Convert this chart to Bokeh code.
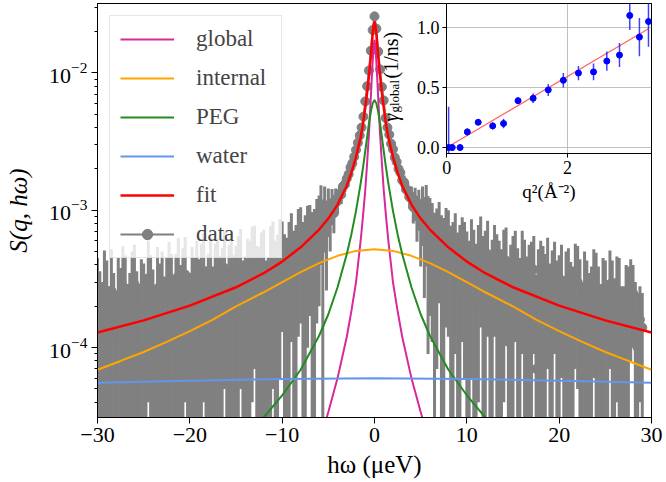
import numpy as np
from bokeh.plotting import figure
from bokeh.models import (Range1d, FixedTicker, LogTickFormatter, Legend, LegendItem,
                          ColumnDataSource, CustomJSTickFormatter, Label, NumeralTickFormatter)
from bokeh.embed import file_html
from bokeh.resources import INLINE

FONT = "Liberation Serif"

# ---------------- model curves (units of 1e-4) ----------------
global_x = [-7, -6, -5, -4, -3, -2.5, -2, -1.5, -1.25, -1.0, -0.8, -0.6, -0.4, -0.3, -0.2, -0.1, 0,
            0.1, 0.2, 0.3, 0.4, 0.6, 0.8, 1.0, 1.25, 1.5, 2, 2.5, 3, 4, 5, 6, 7]
global_y = [0.12, 0.2, 0.34, 0.6, 1.2, 1.85, 3.0, 6.0, 9.0, 14.0, 22.0, 36.0, 66.0, 90.0, 120.0, 155.0, 174.0,
            155.0, 120.0, 90.0, 66.0, 36.0, 22.0, 14.0, 9.0, 6.0, 3.0, 1.85, 1.2, 0.6, 0.34, 0.2, 0.12]

peg_x = [-15, -12, -10, -8, -6, -5, -4, -3, -2.5, -2, -1.5, -1.25, -1.0, -0.8, -0.6, -0.4, -0.2, 0,
         0.2, 0.4, 0.6, 0.8, 1.0, 1.25, 1.5, 2, 2.5, 3, 4, 5, 6, 8, 10, 12, 15]
peg_y = [0.20, 0.31, 0.45, 0.69, 1.22, 1.75, 2.75, 4.8, 6.7, 9.9, 15.7, 20.3, 27.0, 34.0, 43.0, 52.0, 60.0, 63.5,
         60.0, 52.0, 43.0, 34.0, 27.0, 20.3, 15.7, 9.9, 6.7, 4.8, 2.75, 1.75, 1.22, 0.69, 0.45, 0.31, 0.20]

internal_x = [-30, -27.5, -25, -22.5, -20, -17.5, -15, -12, -10, -8, -6, -4, -2, 0,
              2, 4, 6, 8, 10, 12, 15, 17.5, 20, 22.5, 25, 27.5, 30]
internal_y = [0.69, 0.80, 0.93, 1.10, 1.32, 1.60, 2.00, 2.53, 3.00, 3.54, 4.12, 4.66, 5.06, 5.20,
              5.06, 4.66, 4.12, 3.54, 3.00, 2.53, 2.00, 1.60, 1.32, 1.10, 0.93, 0.80, 0.69]

water_x = [-30, -20, -10, 0, 10, 20, 30]
water_y = [0.555, 0.575, 0.592, 0.598, 0.592, 0.575, 0.555]

fit_x = [-30, -25, -20, -15, -12, -10, -8, -6, -5, -4, -3, -2.5, -2, -1.75, -1.5, -1.25, -1.0, -0.8, -0.6,
         -0.4, -0.3, -0.2, -0.1, 0, 0.1, 0.2, 0.3, 0.4, 0.6, 0.8, 1.0, 1.25, 1.5, 1.75, 2, 2.5, 3, 4, 5, 6,
         8, 10, 12, 15, 20, 25, 30]
fit_y = [1.29, 1.58, 2.02, 2.75, 3.48, 4.23, 5.37, 7.24, 8.7, 11.0, 15.1, 18.8, 24.5, 28.8, 34.0, 42.0, 56.0,
         72.0, 95.0, 132.0, 160.0, 192.0, 222.0, 236.0, 222.0, 192.0, 160.0, 132.0, 95.0, 72.0, 56.0, 42.0,
         34.0, 28.8, 24.5, 18.8, 15.1, 11.0, 8.7, 7.24, 5.37, 4.23, 3.48, 2.75, 2.02, 1.58, 1.29]

# ---------------- measured data (units of 1e-4), energy grid in ueV ----------------
data_x_left = np.round(np.arange(-30.0, -5.99, 0.25), 2)
data_x_center = np.round(np.arange(-5.8, 5.81, 0.2), 2)
data_x_right = np.round(np.arange(6.0, 29.01, 0.25), 2)

data_y_left = [2.1, 1.4, 0.9, 2.5, 1.8, 0.6, 2.6, 1.2, 0.6, 2.0,
               1.5, 2.8, 2.2, 0.8, 1.1, 2.4, 2.9, 1.3, 0.7, 1.9,
               1.9, 1.0, 3.2, 2.1, 1.3, 0.5, 2.7, 1.6, 2.4, 0.9,
               1.7, 3.0, 2.3, 1.0, 2.2, 3.3, 1.4, 2.6, 3.4, 1.1,
               0.8, 2.5, 1.9, 3.0, 1.6, 2.8, 3.6, 1.3, 2.0, 3.2,
               1.2, 2.7, 3.1, 1.8, 2.4, 3.8, 0.9, 2.6, 3.5, 1.7,
               2.2, 3.3, 3.9, 1.4, 1.5, 2.9, 2.8, 4.0, 4.2, 2.3,
               2.0, 3.4, 3.6, 1.1, 1.2, 3.9, 4.4, 2.5, 3.0, 4.6,
               4.8, 2.9, 2.4, 4.1, 5.3, 3.2, 3.8, 5.7, 6.0, 4.0,
               4.4, 5.9, 6.3, 4.7, 5.0, 6.8, 7.4]
data_err_left = [2.4, 2.2, 2.1, 2.6, 2.5, 2.2, 2.6, 2.3, 2.0, 2.5,
                 2.3, 2.7, 2.5, 2.1, 2.4, 2.6, 2.7, 2.3, 2.2, 2.5,
                 2.2, 2.4, 2.8, 2.6, 2.4, 2.3, 2.7, 2.5, 2.6, 2.4,
                 2.8, 2.9, 2.5, 2.4, 2.6, 3.0, 2.6, 2.7, 3.0, 2.5,
                 2.7, 2.9, 2.6, 3.0, 2.8, 2.9, 3.2, 2.6, 2.8, 3.1,
                 2.7, 3.0, 3.1, 2.8, 2.9, 3.3, 2.8, 3.0, 3.3, 3.0,
                 3.3, 3.2, 3.4, 2.9, 3.1, 3.3, 3.2, 3.6, 3.5, 3.2,
                 3.4, 3.5, 3.6, 3.2, 3.3, 3.8, 3.9, 3.5, 3.6, 4.0,
                 3.5, 3.8, 3.9, 4.1, 4.2, 3.9, 4.0, 4.5, 4.5, 4.2,
                 4.8, 4.9, 4.6, 5.0, 5.2, 5.3, 5.4]

data_y_center = [9.6, 6.1, 9.9, 7.2, 10.4, 8.4, 11.3, 9.5, 12.0, 11.6,
                 13.2, 13.0, 15.0, 15.4, 17.0, 18.3, 20.5, 22.0, 24.5, 27.5,
                 31.0, 35.0, 40.0, 48.0, 62.0, 80.0, 104.0, 145.0, 205.0, 258.0,
                 210.0, 143.0, 106.0, 79.0, 63.0, 47.0, 40.0, 35.5, 30.5, 27.8,
                 24.2, 22.5, 20.0, 18.8, 16.5, 16.0, 14.2, 14.0, 12.4, 12.6,
                 10.5, 11.8, 9.0, 10.6, 8.0, 10.2, 7.4, 9.6, 6.8]
data_err_center = [5.6, 5.9, 5.0, 4.6, 4.0, 3.4, 3.0, 2.7, 2.4, 2.2,
                   2.0, 1.9, 1.8, 1.8, 1.8, 1.8, 1.9, 2.0, 2.1, 2.2,
                   2.4, 2.6, 3.0, 3.5, 4.5, 5.0, 6.0, 8.0, 10.0, 12.0,
                   10.5, 8.2, 6.2, 5.2, 4.4, 3.6, 3.1, 2.7, 2.4, 2.3,
                   2.1, 2.0, 1.9, 1.9, 1.8, 1.9, 2.0, 2.0, 2.1, 2.3,
                   2.5, 2.8, 3.1, 3.5, 4.1, 4.7, 5.1, 5.7, 5.9]

data_y_right = [7.0, 6.2, 4.6, 5.5, 6.8, 4.3, 3.9, 5.9, 5.6, 3.5,
                4.1, 5.2, 2.6, 3.8, 5.0, 4.4, 3.3, 2.1, 4.6, 3.6,
                2.2, 4.1, 5.2, 3.0, 3.7, 4.8, 1.4, 2.7, 4.5, 3.5,
                2.9, 1.9, 3.8, 4.3, 1.1, 2.5, 3.3, 4.1, 2.4, 1.5,
                4.0, 3.2, 1.8, 2.6, 2.9, 3.7, 0.7, 2.3, 3.1, 2.8,
                2.2, 3.5, 1.3, 2.5, 3.4, 1.6, 2.0, 3.1, 0.9, 2.4,
                2.7, 1.8, 1.6, 3.2, 3.0, 2.1, 0.6, 2.6, 2.1, 1.2,
                1.4, 2.9, 2.6, 1.7, 0.8, 2.3, 1.9, 1.1, 2.9, 2.0,
                1.2, 2.5, 2.2, 0.9, 0.7, 1.8, 1.7, 2.6, 2.5, 1.3,
                1.0, 1.6, 1.4]
data_err_right = [5.3, 5.1, 5.0, 4.8, 4.7, 4.9, 4.9, 4.5, 4.4, 4.2,
                  4.1, 4.3, 4.3, 4.0, 3.9, 3.8, 3.7, 3.9, 4.0, 3.6,
                  3.5, 3.7, 3.8, 3.5, 3.4, 3.6, 3.6, 3.4, 3.3, 3.2,
                  3.1, 3.3, 3.4, 3.2, 3.0, 3.1, 3.2, 3.0, 2.9, 3.0,
                  3.1, 2.9, 2.8, 3.0, 3.0, 2.8, 2.7, 2.9, 2.9, 2.7,
                  2.6, 2.8, 2.8, 2.6, 2.5, 2.7, 2.7, 2.5, 2.4, 2.6,
                  2.6, 2.4, 2.3, 2.5, 2.5, 2.3, 2.4, 2.4, 2.2, 2.3,
                  2.5, 2.3, 2.3, 2.2, 2.1, 2.2, 2.4, 2.0, 2.2, 2.3,
                  2.0, 2.1, 2.3, 1.9, 2.1, 2.2, 2.2, 1.8, 1.5, 1.7,
                  1.5, 1.2, 1.1]

# ---------------- inset data ----------------
q2 = [0.03, 0.09, 0.22, 0.34, 0.52, 0.76, 0.94, 1.18, 1.43, 1.68, 1.93, 2.18, 2.43, 2.65, 2.86, 3.03, 3.19, 3.34]
gamma = [0.0, 0.0, 0.0, 0.13, 0.21, 0.18, 0.20, 0.39, 0.41, 0.48, 0.56, 0.62, 0.63, 0.72, 0.77, 1.10, 0.92, 1.05]
gamma_err = [0.34, 0.03, 0.02, 0.03, 0.02, 0.03, 0.04, 0.03, 0.04, 0.05, 0.06, 0.06, 0.07, 0.08, 0.10, 0.12, 0.16, 0.21]
fit_q2 = [0.0, 3.34]
fit_gamma = [0.0, 0.99]

x_ticks = [-30, -20, -10, 0, 10, 20, 30]
y_ticks = [1e-4, 1e-3, 1e-2]
inset_x_ticks = [0, 2]
inset_y_ticks = [0.0, 0.5, 1.0]

colors = {"global": "#d8289a", "internal": "#ffa500", "PEG": "#228b22",
          "water": "#6495ed", "fit": "#ff0000", "data": "#808080"}
UNIT = 1e-4

# ---------------- main figure ----------------
p = figure(width=666, height=482, x_range=Range1d(-30, 30), y_range=Range1d(3.1e-5, 3.2e-2),
           y_axis_type="log", output_backend="svg", toolbar_location=None,
           min_border_left=97, min_border_right=15, min_border_top=3, min_border_bottom=65)
p.name = "main"
p.grid.visible = False
p.outline_line_color = "black"
p.background_fill_color = "white"
p.border_fill_color = "white"

dx = np.concatenate([data_x_left, data_x_center, data_x_right])
dy = np.concatenate([data_y_left, data_y_center, data_y_right]) * UNIT
de = np.concatenate([data_err_left, data_err_center, data_err_right]) * UNIT
lo = np.where(dy - de > 0, dy - de, 1e-8)
hi = dy + de
dsrc = ColumnDataSource(dict(x=dx, y=dy, lo=lo, hi=hi))

gray = colors["data"]
p.segment("x", "lo", "x", "hi", source=dsrc, line_color=gray, line_width=3)
r_dline = p.line("x", "y", source=dsrc, line_color=gray, line_width=2)
r_dpts = p.scatter("x", "y", source=dsrc, size=9, fill_color=gray, line_color=gray)
r_dvbar = p.scatter(x=[], y=[], marker="dash", size=26, angle=np.pi / 2,
                    line_color=gray, line_width=2.5)

def curve(xs, ys, color, width=2):
    return p.line(xs, [v * UNIT for v in ys], line_color=color, line_width=width)

r_g = curve(global_x, global_y, colors["global"])
r_i = curve(internal_x, internal_y, colors["internal"])
r_p = curve(peg_x, peg_y, colors["PEG"])
r_w = curve(water_x, water_y, colors["water"])
r_f = curve(fit_x, fit_y, colors["fit"], 2.5)

p.xaxis.ticker = FixedTicker(ticks=x_ticks)
p.xaxis.formatter = CustomJSTickFormatter(code="return (tick < 0 ? '\u2212' : '') + Math.abs(tick).toFixed(0);")
minor = [k * 10.0 ** e for e in (-5, -4, -3, -2) for k in range(2, 10)]
p.yaxis.ticker = FixedTicker(ticks=y_ticks, minor_ticks=minor)
p.yaxis.formatter = LogTickFormatter()
p.xaxis.axis_label = "hω (μeV)"
p.yaxis.axis_label = "S(q, hω)"
p.yaxis.axis_label_text_font_style = "italic"
p.xaxis.axis_label_text_font_style = "normal"
for ax in (p.xaxis[0], p.yaxis[0]):
    ax.major_tick_in = 0
    ax.major_tick_out = 6
    ax.minor_tick_in = 0
    ax.minor_tick_out = 3
    ax.major_label_standoff = 4
    ax.axis_label_standoff = 6
    ax.major_label_text_font = FONT
    ax.major_label_text_font_size = "22px"
    ax.major_label_text_color = "black"
    ax.axis_label_text_font = FONT
    ax.axis_label_text_font_size = "25px"
    ax.axis_label_text_color = "black"
    ax.axis_line_color = "black"
    ax.major_tick_line_color = "black"
    ax.minor_tick_line_color = "black"
p.xaxis.minor_tick_line_color = None
p.yaxis.axis_label_standoff = 14

legend = Legend(items=[
    LegendItem(label="global", renderers=[r_g]),
    LegendItem(label="internal", renderers=[r_i]),
    LegendItem(label="PEG", renderers=[r_p]),
    LegendItem(label="water", renderers=[r_w]),
    LegendItem(label="fit", renderers=[r_f]),
    LegendItem(label="data", renderers=[r_dline, r_dpts, r_dvbar]),
], location="top_left")
legend.label_text_font = FONT
legend.label_text_font_size = "23px"
legend.glyph_width = 54
legend.glyph_height = 26
legend.label_height = 20
legend.spacing = 13
legend.padding = 10
legend.margin = 12
legend.label_standoff = 22
legend.label_width = 75
legend.border_line_color = "#d0d0d0"
legend.background_fill_alpha = 0.8
p.add_layout(legend)

# composed y label of the inset (gamma with subscript "global"), placed in screen units
lab_kw = dict(x_units="screen", y_units="screen", angle=np.pi / 2, text_font=FONT,
              text_color="black", text_align="left", text_baseline="alphabetic")
p.add_layout(Label(x=293, y=296, text="γ", text_font_size="20px", text_font_style="italic", **lab_kw))
p.add_layout(Label(x=297, y=305, text="global", text_font_size="13px", **lab_kw))
p.add_layout(Label(x=293, y=339, text="(1/ns)", text_font_size="20px", **lab_kw))

# ---------------- inset ----------------
inset = figure(width=263, height=204, x_range=Range1d(-0.005, 3.39), y_range=Range1d(-0.05, 1.2),
               output_backend="svg", toolbar_location=None,
               min_border_left=56, min_border_right=2, min_border_top=3, min_border_bottom=50)
inset.name = "inset"
inset.border_fill_alpha = 0
inset.background_fill_color = "white"
inset.outline_line_color = "black"
inset.xgrid.ticker = FixedTicker(ticks=inset_x_ticks)
inset.ygrid.ticker = FixedTicker(ticks=inset_y_ticks)
inset.grid.grid_line_color = "#b0b0b0"
inset.grid.grid_line_alpha = 0.8

glo = [g - e for g, e in zip(gamma, gamma_err)]
ghi = [g + e for g, e in zip(gamma, gamma_err)]
isrc = ColumnDataSource(dict(q=q2, g=gamma, lo=glo, hi=ghi))
inset.line(fit_q2, fit_gamma, line_color="#ff3030", line_alpha=0.75, line_width=1.2)
inset.segment("q", "lo", "q", "hi", source=isrc, line_color="#0000ff", line_width=1.5, line_alpha=0.75)
inset.scatter("q", "g", source=isrc, size=6, fill_color="#0000ff", line_color="#0000ff")

inset.xaxis.ticker = FixedTicker(ticks=inset_x_ticks)
inset.yaxis.ticker = FixedTicker(ticks=inset_y_ticks)
inset.xaxis.formatter = NumeralTickFormatter(format="0")
inset.yaxis.formatter = NumeralTickFormatter(format="0.0")
inset.xaxis.axis_label = "q²(Å⁻²)"
for ax in (inset.xaxis[0], inset.yaxis[0]):
    ax.major_tick_in = 0
    ax.major_tick_out = 4
    ax.minor_tick_line_color = None
    ax.major_label_standoff = 3
    ax.axis_label_standoff = 4
    ax.major_label_text_font = FONT
    ax.major_label_text_font_size = "18px"
    ax.major_label_text_color = "black"
    ax.axis_label_text_font = FONT
    ax.axis_label_text_font_size = "19px"
    ax.axis_label_text_font_style = "normal"
    ax.axis_label_text_color = "black"
    ax.axis_line_color = "black"
    ax.major_tick_line_color = "black"

template = """
{% block contents %}
<div style="position:absolute; left:0px; top:0px;">{{ embed(roots.main) }}</div>
<div style="position:absolute; left:390px; top:0px;">{{ embed(roots.inset) }}</div>
{% endblock %}
"""

open("out.html", "w").write(file_html([p, inset], INLINE, template=template))
